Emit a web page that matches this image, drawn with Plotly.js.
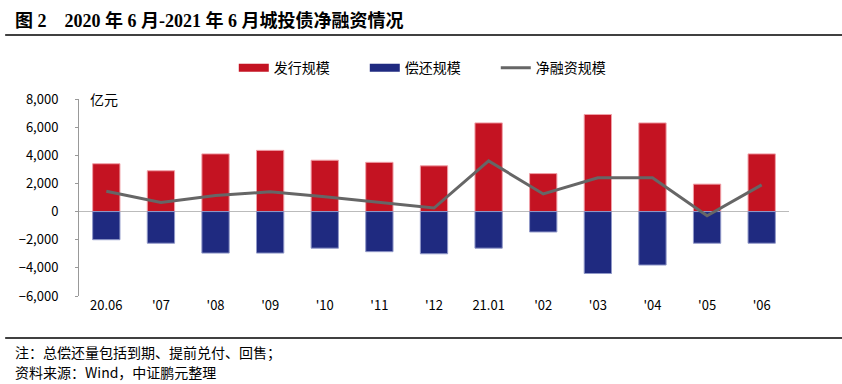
<!DOCTYPE html>
<html>
<head>
<meta charset="utf-8">
<script src="https://cdn.plot.ly/plotly-3.0.1.min.js"></script>
<style>html,body{margin:0;padding:0;background:#fff;}#chart{width:842px;height:384px;}</style>
</head>
<body>
<div id="chart"></div>
<script>
var categories = ["20.06", "'07", "'08", "'09", "'10", "'11", "'12", "21.01", "'02", "'03", "'04", "'05", "'06"];
var issuance = [3400, 2900, 4100, 4350, 3650, 3500, 3250, 6300, 2700, 6900, 6300, 1950, 4100];
var repayment = [-2000, -2250, -2950, -2950, -2600, -2850, -3000, -2600, -1450, -4400, -3800, -2250, -2250];
var netFinancing = [1450, 650, 1150, 1400, 1050, 650, 250, 3600, 1250, 2400, 2400, -300, 1900];
var yTicks = [-6000, -4000, -2000, 0, 2000, 4000, 6000, 8000];

var RED = '#C41322';
var BLUE = '#1F2A80';
var GRAY = '#666666';
var FONT = 'Noto Sans CJK SC, DejaVu Sans, sans-serif';

var traces = [
  {type: 'bar', x: categories, y: issuance, name: '发行规模', showlegend: false,
   marker: {color: RED, line: {color: '#f0a0a8', width: 1}}},
  {type: 'bar', x: categories, y: repayment, name: '偿还规模', showlegend: false,
   marker: {color: BLUE, line: {color: '#9098c8', width: 1}}},
  {type: 'scatter', mode: 'lines', x: categories, y: netFinancing, name: '净融资规模', showlegend: false,
   line: {color: GRAY, width: 3}},
  {type: 'scatter', mode: 'lines', x: [null], y: [null], name: '发行规模', line: {color: RED, width: 8}},
  {type: 'scatter', mode: 'lines', x: [null], y: [null], name: '偿还规模', line: {color: BLUE, width: 8}},
  {type: 'scatter', mode: 'lines', x: [null], y: [null], name: '净融资规模', line: {color: GRAY, width: 3}}
];

var layout = {
  width: 842, height: 384,
  margin: {l: 79, r: 53, t: 99, b: 88},
  paper_bgcolor: '#fff', plot_bgcolor: '#fff',
  barmode: 'relative', bargap: 0.5,
  font: {family: FONT, size: 13, color: '#000'},
  showlegend: true,
  legend: {orientation: 'h', x: 0.218, xanchor: 'left', y: 1.157, yanchor: 'middle',
           entrywidth: 86, entrywidthmode: 'pixels',
           font: {family: FONT, size: 14, color: '#000'}, itemwidth: 30, traceorder: 'normal'},
  xaxis: {type: 'category', showgrid: false, showline: false, zeroline: false, ticks: '',
          tickfont: {family: FONT, size: 13, color: '#000'}, fixedrange: true},
  yaxis: {range: [-6000, 8000], tickvals: yTicks, tickformat: ',d', showgrid: false,
          showline: true, linecolor: '#999', linewidth: 1,
          ticks: 'outside', ticklen: 3, tickcolor: '#999',
          zeroline: true, zerolinecolor: '#bbb', zerolinewidth: 1.5,
          tickfont: {family: FONT, size: 13, color: '#000'}, ticklabelstandoff: 14},
  annotations: [
    {xref: 'paper', yref: 'paper', x: 0.012, y: 1.0, xanchor: 'left', yanchor: 'middle',
     text: '亿元', showarrow: false, font: {family: FONT, size: 14, color: '#000'}},
    {xref: 'paper', yref: 'paper', x: -0.093, y: 1.396, xanchor: 'left', yanchor: 'middle',
     text: '<b>图 2　2020 年 6 月-2021 年 6 月城投债净融资情况</b>', showarrow: false,
     font: {family: 'Liberation Serif, Noto Sans CJK SC, serif', size: 18, color: '#000'}},
    {xref: 'paper', yref: 'paper', x: -0.093, y: -0.284, xanchor: 'left', yanchor: 'middle',
     text: '注：总偿还量包括到期、提前兑付、回售；', showarrow: false,
     font: {family: FONT, size: 14, color: '#000'}},
    {xref: 'paper', yref: 'paper', x: -0.093, y: -0.386, xanchor: 'left', yanchor: 'middle',
     text: '资料来源：Wind，中证鹏元整理', showarrow: false,
     font: {family: FONT, size: 14, color: '#000'}}
  ],
  shapes: [
    {type: 'line', xref: 'paper', yref: 'paper', x0: -0.104, x1: 1.075, y0: 1.325, y1: 1.325,
     line: {color: '#000', width: 1.5}},
    {type: 'line', xref: 'paper', yref: 'paper', x0: -0.104, x1: 1.075, y0: -0.213, y1: -0.213,
     line: {color: '#000', width: 1.5}}
  ]
};

Plotly.newPlot('chart', traces, layout, {displayModeBar: false, staticPlot: true});
</script>
</body>
</html>
